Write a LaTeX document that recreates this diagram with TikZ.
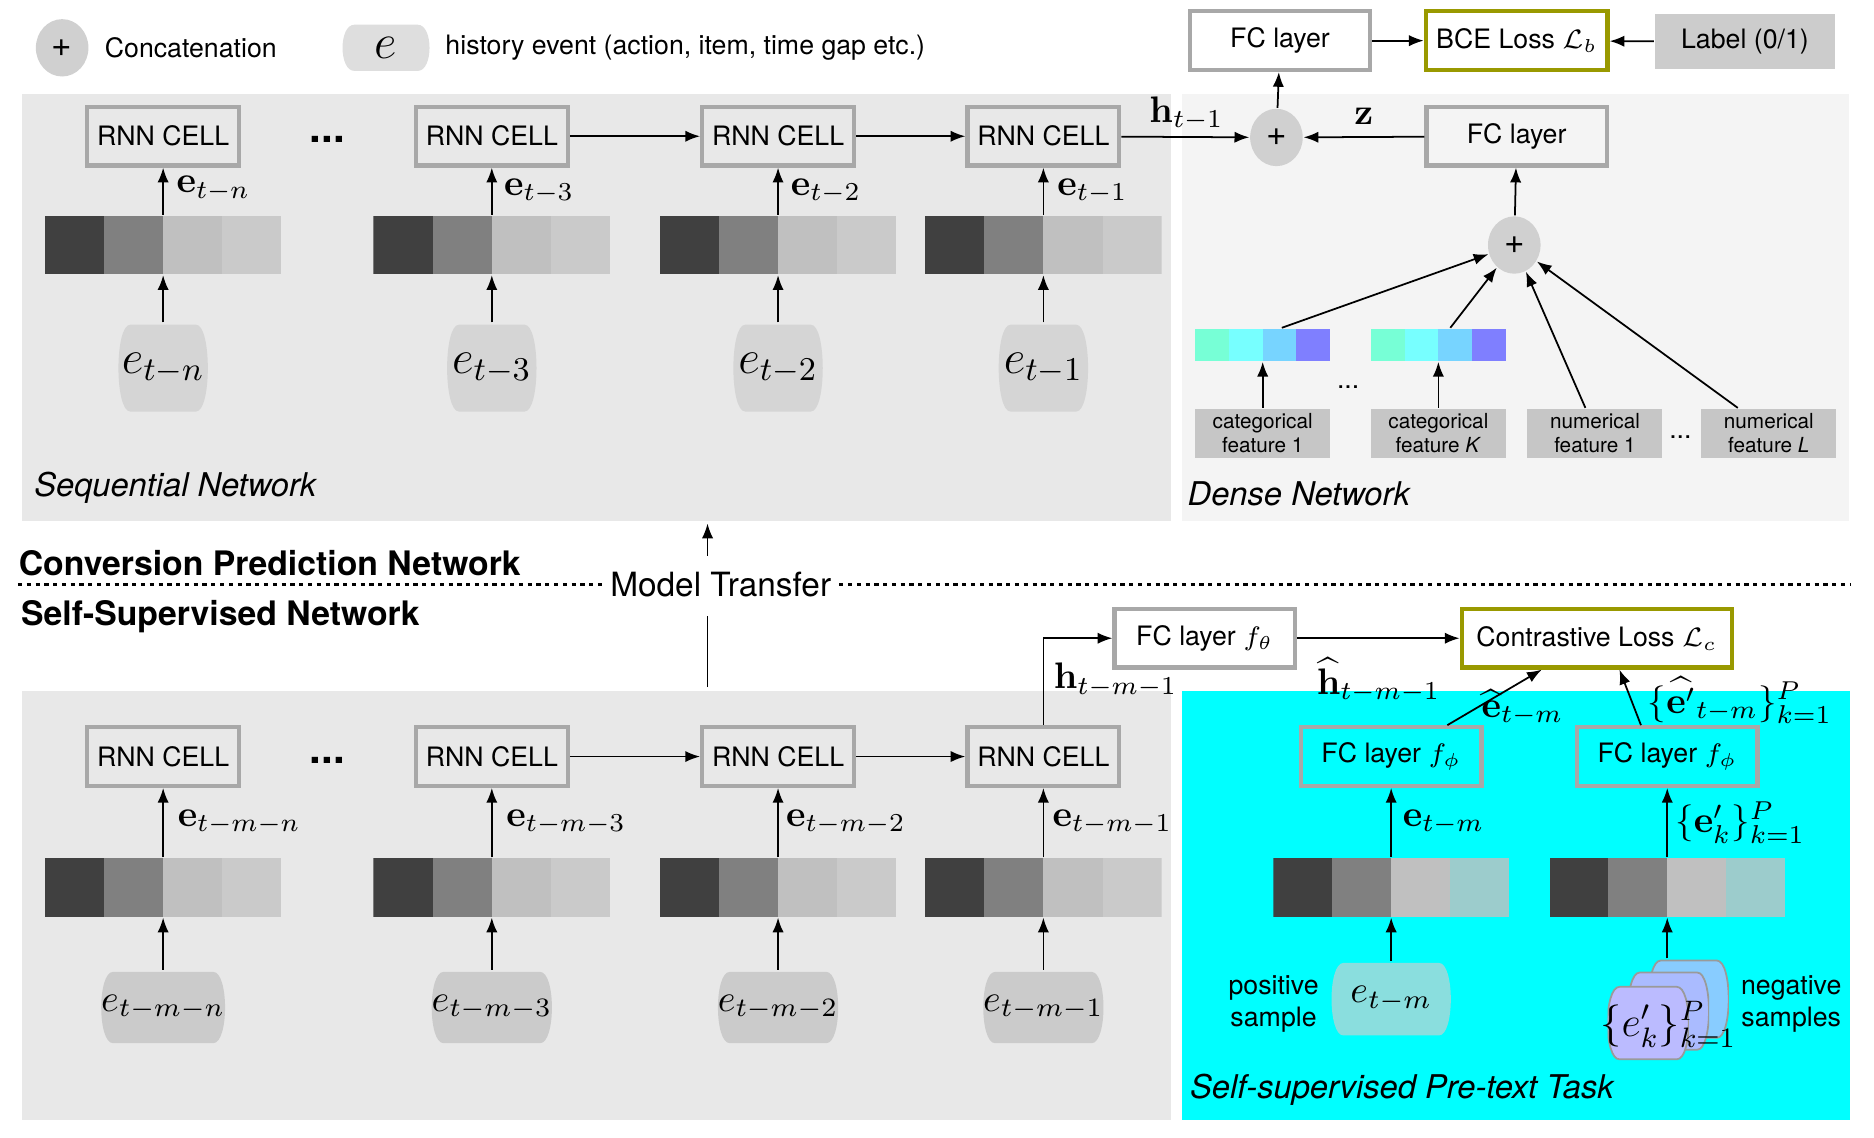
\documentclass[tikz,border=0pt]{standalone}
\usepackage{fix-cm}
\usepackage{amsmath}
\usepackage[no-math]{fontspec}
\setmainfont{TeX Gyre Heros}
\usepackage{xcolor}
\usepackage{tikz}
\usetikzlibrary{positioning}
\usetikzlibrary{arrows.meta}
\usetikzlibrary{shapes.geometric}

\definecolor{seqgray}{HTML}{E8E8E8}
\definecolor{densegray}{HTML}{F4F4F4}
\definecolor{pretext}{HTML}{00FFFF}
\definecolor{boxline}{HTML}{A8A8A8}
\definecolor{lossline}{HTML}{999900}
\definecolor{labelgray}{HTML}{CCCCCC}
\definecolor{featgray}{HTML}{C6C6C6}
\definecolor{plusgray}{HTML}{D0D0D0}
\definecolor{evtlegend}{HTML}{DEDEDE}
\definecolor{evtup}{HTML}{D5D5D5}
\definecolor{evtlow}{HTML}{CBCBCB}
\definecolor{posfill}{HTML}{8ADEDE}
\definecolor{negA}{HTML}{88CCFF}
\definecolor{negB}{HTML}{AABBFF}
\definecolor{negC}{HTML}{BBBBFF}
\definecolor{negline}{HTML}{9A9A9A}
\definecolor{segA}{HTML}{404040}
\definecolor{segB}{HTML}{808080}
\definecolor{segC}{HTML}{C0C0C0}
\definecolor{segD}{HTML}{CACACA}
\definecolor{segT}{HTML}{9CCCCC}
\definecolor{dnA}{HTML}{77FFD6}
\definecolor{dnB}{HTML}{77FFFF}
\definecolor{dnC}{HTML}{77D4FF}
\definecolor{dnD}{HTML}{7F7FFF}

\def\px{0.34pt}
\colorlet{evtc}{gray}
\def\segcolors{segA,segB,segC,segD}

\tikzset{
  evtfill/.code={\colorlet{evtc}{#1}},
  evtborder/.style={},
  event/.style 2 args={rectangle, minimum width=#1*\px, minimum height=#2*\px, inner sep=0pt,
    path picture={\path[fill=evtc, evtborder]
      ([xshift=10*\px, yshift=-0.4pt]path picture bounding box.north west)
      -- ([xshift=-10*\px, yshift=-0.4pt]path picture bounding box.north east)
      .. controls ([xshift=3.2*\px, yshift=-0.4pt]path picture bounding box.north east)
      and ([xshift=3.2*\px, yshift=0.4pt]path picture bounding box.south east)
      .. ([xshift=-10*\px, yshift=0.4pt]path picture bounding box.south east)
      -- ([xshift=10*\px, yshift=0.4pt]path picture bounding box.south west)
      .. controls ([xshift=-3.2*\px, yshift=0.4pt]path picture bounding box.south west)
      and ([xshift=-3.2*\px, yshift=-0.4pt]path picture bounding box.north west)
      .. cycle;}},
  segcols/.code={\def\segcolors{#1}},
  segbar/.style 2 args={rectangle, minimum width=#1*\px, minimum height=#2*\px, inner sep=0pt,
    path picture={\foreach \c [count=\i from 0] in \segcolors
      {\fill[\c, shift={(path picture bounding box.center)}] (-#1/2+\i*#1/4,-#2/2) rectangle ++(#1/4,#2);}}},
}

\begin{document}
\begin{tikzpicture}[x=\px, y=-\px,
        >={Latex[length=4.2pt,width=3.2pt]}, line width=0.5pt,
        every node/.style={font=\fontsize{7.6}{9}\selectfont, inner sep=0pt},
        rnnbox/.style={rectangle, draw=boxline, line width=1.2pt, minimum width=127*\px, minimum height=49*\px},
        fcbox/.style={rnnbox, minimum width=151*\px},
        lossbox/.style={rnnbox, draw=lossline, minimum width=152*\px},
        labelbox/.style={rectangle, fill=labelgray, minimum width=151*\px, minimum height=46*\px},
        featbox/.style={rectangle, fill=featgray, minimum width=113*\px, minimum height=41*\px, align=center, font=\fontsize{5.9}{6.9}\selectfont},
        concat/.style={ellipse, fill=plusgray, minimum width=44*\px, minimum height=48*\px, font=\fontsize{10}{10}\selectfont},
        veclbl/.style={anchor=west, font=\fontsize{10.5}{12}\selectfont},
        evtbig/.style={font=\fontsize{13.5}{14}\selectfont},
        evtsmall/.style={font=\fontsize{10.8}{12}\selectfont},
        paneltitle/.style={anchor=west, font=\fontsize{9.3}{11}\selectfont\itshape},
        nettitle/.style={anchor=west, font=\fontsize{9.6}{11}\selectfont\bfseries},
        ellip/.style={font=\fontsize{12}{12}\selectfont\bfseries},
        divider/.style={line width=0.8pt, dash pattern=on 1.2pt off 1.3pt},
    ]
    \useasboundingbox (0,0) rectangle (1568,952);

    % panels
    \fill[seqgray] (18,79) rectangle (980,436);
    \fill[densegray] (989,79) rectangle (1547,436);
    \fill[seqgray] (18,578) rectangle (980,937);
    \fill[pretext] (989,578) rectangle (1548,937);

    % legend
    \node[concat] (lgplus) at (52,40) {+};
    \node[anchor=west] (lgcat) at (87,40) {Concatenation};
    \node[event={73}{41}, evtfill=evtlegend, font=\fontsize{14}{14}\selectfont] (lgevt) at (323,40) {$e$};
    \node[anchor=west] (lghist) at (372,40) {history event (action, item, time gap etc.)};

    % top loss
    \node[fcbox] (fctop) at (1071,34) {FC layer};
    \node[lossbox] (bce) at (1269,34) {BCE Loss $\mathcal{L}_b$};
    \node[labelbox] (lab) at (1460,35) {Label (0/1)};

    % sequential network
    \node[rnnbox] (rc1) at (136.5,114) {RNN CELL};
    \node[ellip] (rdots) at (274,117) {...};
    \node[rnnbox] (rc2) at (411.5,114) {RNN CELL};
    \node[rnnbox] (rc3) at (651,114) {RNN CELL};
    \node[rnnbox] (rc4) at (873,114) {RNN CELL};

    \node[segbar={198}{49}] (sb1) at (136.5,205) {};
    \node[segbar={198}{49}] (sb2) at (411.5,205) {};
    \node[segbar={198}{49}] (sb3) at (651,205) {};
    \node[segbar={198}{49}] (sb4) at (873,205) {};

    \node[event={75}{75}, evtfill=evtup, evtbig] (ev1) at (136.5,308) {$e_{t-n}$};
    \node[event={75}{75}, evtfill=evtup, evtbig] (ev2) at (411.5,308) {$e_{t-3}$};
    \node[event={75}{75}, evtfill=evtup, evtbig] (ev3) at (651,308) {$e_{t-2}$};
    \node[event={75}{75}, evtfill=evtup, evtbig] (ev4) at (873,308) {$e_{t-1}$};

    \foreach \k in {1,2,3,4} {
        \draw[->] (ev\k) -- (sb\k);
        \draw[->] (sb\k) -- (rc\k);
    }
    \draw[->] (rc2) -- (rc3);
    \draw[->] (rc3) -- (rc4);

    \node[veclbl] (ue1) at (147,158) {$\mathbf{e}_{t-n}$};
    \node[veclbl] (ue2) at (421,160) {$\mathbf{e}_{t-3}$};
    \node[veclbl] (ue3) at (661,160) {$\mathbf{e}_{t-2}$};
    \node[veclbl] (ue4) at (884,160) {$\mathbf{e}_{t-1}$};

    \node[paneltitle] (seqtitle) at (28,408) {Sequential Network};

    % dense network
    \node[concat] (plus1) at (1068,115) {+};
    \node[fcbox] (fcd) at (1269,114) {FC layer};
    \node[concat] (plus2) at (1267,205) {+};

    \node[segbar={113}{27}, segcols={dnA,dnB,dnC,dnD}] (dbA) at (1056.5,288.5) {};
    \node[segbar={113}{27}, segcols={dnA,dnB,dnC,dnD}] (dbB) at (1203.5,288.5) {};
    \node (ddots1) at (1128,324) {...};

    \node[featbox] (cat1) at (1056.5,362.5) {categorical\\feature 1};
    \node[featbox] (catK) at (1203.5,362.5) {categorical\\feature \textit{K}};
    \node[featbox] (num1) at (1334.5,362.5) {numerical\\feature 1};
    \node (ddots2) at (1406,366) {...};
    \node[featbox] (numL) at (1480,362.5) {numerical\\feature \textit{L}};

    \draw[->] (cat1) -- (dbA);
    \draw[->] (catK) -- (dbB);
    \draw[->] ([xshift=16*\px]dbA.north) -- (plus2);
    \draw[->] ([xshift=10*\px]dbB.north) -- (plus2);
    \draw[->] ([xshift=-8*\px]num1.north) -- (plus2);
    \draw[->] ([xshift=-26*\px]numL.north) -- (plus2);
    \draw[->] (plus2) -- (fcd);
    \draw[->] (fcd) -- (plus1);
    \draw[->] (rc4) -- (plus1);
    \draw[->] (plus1) -- (fctop);
    \draw[->] (fctop) -- (bce);
    \draw[->] (lab) -- (bce);

    \node[font=\fontsize{10.5}{12}\selectfont] (zlab) at (1141,97) {$\mathbf{z}$};
    \node[veclbl] (hlab) at (961,95) {$\mathbf{h}_{t-1}$};

    \node[paneltitle] (densetitle) at (993,413) {Dense Network};

    % model transfer
    \coordinate (mtbot) at (592,465);
    \coordinate (mttop) at (592,438);
    \draw[->] (mtbot) -- (mttop);
    \node[nettitle] (cpn) at (15,471) {Conversion Prediction Network};
    \node[font=\fontsize{9.5}{11}\selectfont] (mt) at (603,489) {Model Transfer};
    \coordinate (dashL) at (15,489);
    \coordinate (dashR) at (1548,489);
    \draw[divider] (dashL) -- ([xshift=-6*\px]mt.west);
    \draw[divider] ([xshift=6*\px]mt.east) -- (dashR);
    \node[nettitle] (ssn) at (17,516) {Self-Supervised Network};
    \coordinate (mtlow) at (592,575);
    \coordinate (mthigh) at (592,515);
    \draw (mtlow) -- (mthigh);

    % self-supervised network
    \node[rnnbox] (rl1) at (136.5,633) {RNN CELL};
    \node[ellip] (ldots) at (274,636) {...};
    \node[rnnbox] (rl2) at (411.5,633) {RNN CELL};
    \node[rnnbox] (rl3) at (651,633) {RNN CELL};
    \node[rnnbox] (rl4) at (873,633) {RNN CELL};

    \node[segbar={198}{49}] (lb1) at (136.5,742.5) {};
    \node[segbar={198}{49}] (lb2) at (411.5,742.5) {};
    \node[segbar={198}{49}] (lb3) at (651,742.5) {};
    \node[segbar={198}{49}] (lb4) at (873,742.5) {};

    \node[event={100}{62}, evtfill=evtlow, evtsmall] (le1) at (136.5,843) {$e_{t-m-n}$};
    \node[event={100}{62}, evtfill=evtlow, evtsmall] (le2) at (411.5,843) {$e_{t-m-3}$};
    \node[event={100}{62}, evtfill=evtlow, evtsmall] (le3) at (651,843) {$e_{t-m-2}$};
    \node[event={100}{62}, evtfill=evtlow, evtsmall] (le4) at (873,843) {$e_{t-m-1}$};

    \foreach \k in {1,2,3,4} {
        \draw[->] (le\k) -- (lb\k);
        \draw[->] (lb\k) -- (rl\k);
    }
    \draw[->] (rl2) -- (rl3);
    \draw[->] (rl3) -- (rl4);

    \node[veclbl] (le1lab) at (148,688) {$\mathbf{e}_{t-m-n}$};
    \node[veclbl] (le2lab) at (423,688) {$\mathbf{e}_{t-m-3}$};
    \node[veclbl] (le3lab) at (657,688) {$\mathbf{e}_{t-m-2}$};
    \node[veclbl] (le4lab) at (880,688) {$\mathbf{e}_{t-m-1}$};

    % contrastive part
    \node[fcbox] (fcth) at (1008,534) {FC layer $f_\theta$};
    \node[lossbox, minimum width=226*\px] (closs) at (1336,534) {Contrastive Loss $\mathcal{L}_c$};
    \draw[->] (rl4.north) |- (fcth.west);
    \draw[->] (fcth) -- (closs);
    \node[veclbl] (hmlab) at (881,569) {$\mathbf{h}_{t-m-1}$};
    \node[veclbl] (hhatlab) at (1101,569) {$\widehat{\mathbf{h}}_{t-m-1}$};

    \node[fcbox] (fpA) at (1164,633) {FC layer $f_\phi$};
    \node[fcbox] (fpB) at (1395,633) {FC layer $f_\phi$};
    \draw[->] ([xshift=47*\px]fpA.north) -- ([xshift=-46*\px]closs.south);
    \draw[->] ([xshift=-22*\px]fpB.north) -- ([xshift=19*\px]closs.south);
    \node[veclbl] (ehatlab) at (1239,592) {$\widehat{\mathbf{e}}_{t-m}$};
    \node[veclbl] (enhatlab) at (1378,586) {$\{\widehat{\mathbf{e}'}_{t-m}\}_{k=1}^{P}$};

    \node[segbar={197}{49}, segcols={segA,segB,segC,segT}] (sbC) at (1164,742.5) {};
    \node[segbar={197}{49}, segcols={segA,segB,segC,segT}] (sbD) at (1395,742.5) {};
    \draw[->] (sbC) -- (fpA);
    \draw[->] (sbD) -- (fpB);
    \node[veclbl] (epos) at (1173,688) {$\mathbf{e}_{t-m}$};
    \node[veclbl] (eneg) at (1401,688) {$\{\mathbf{e}'_k\}_{k=1}^{P}$};

    \node[event={100}{63}, evtfill=posfill, evtsmall] (pos) at (1164,836) {$e_{t-m}$};
    \draw[->] (pos) -- (sbC);
    \node[align=center, anchor=east] (postxt) at (1104,840) {positive\\sample};

    \node[event={67}{67}, evtfill=negA, evtborder/.style={draw=negline, line width=0.5pt}] (ngA) at (1413,836) {};
    \node[event={68}{67}, evtfill=negB, evtborder/.style={draw=negline, line width=0.5pt}] (ngB) at (1396,846) {};
    \node[event={68}{63}, evtfill=negC, evtborder/.style={draw=negline, line width=0.5pt}] (ngC) at (1379,856) {};
    \node[font=\fontsize{12}{13}\selectfont] (negtxt) at (1396,857) {$\{e'_k\}_{k=1}^{P}$};
    \draw[->] (ngA.north -| sbD.south) -- (sbD.south);
    \node[align=center, anchor=west] (negtxtr) at (1456,840) {negative\\samples};

    \node[paneltitle] (pretitle) at (995,912) {Self-supervised Pre-text Task};
\end{tikzpicture}
\end{document}
